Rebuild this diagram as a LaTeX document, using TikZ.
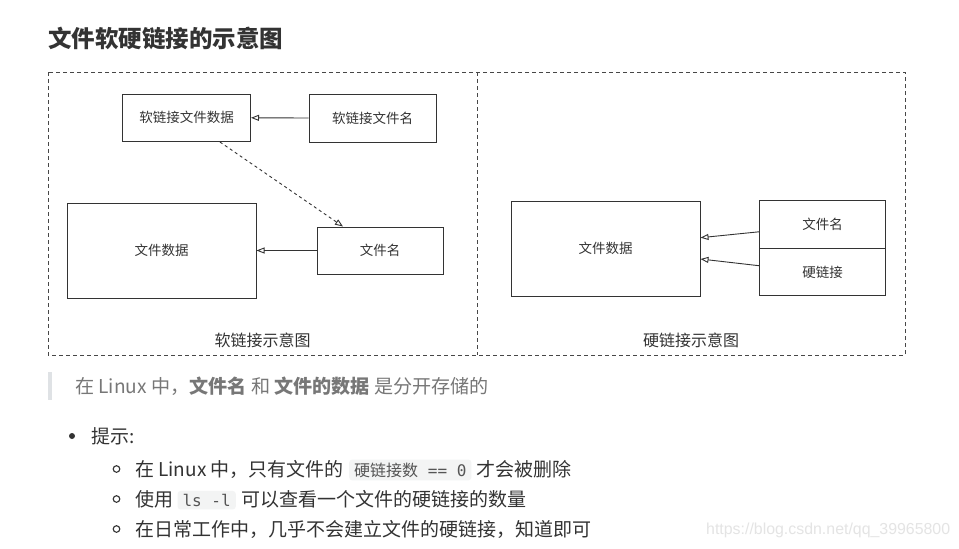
\documentclass[tikz,border=0pt]{standalone}
\usepackage{fontspec}
\setmainfont{Noto Sans CJK SC}
\setmonofont{DejaVu Sans Mono}
\newfontfamily\wmfont{Liberation Sans}
\usetikzlibrary{arrows.meta}
\definecolor{ink}{HTML}{333333}
\definecolor{quotegray}{HTML}{777777}
\definecolor{barcol}{HTML}{DFE2E5}
\definecolor{codebg}{HTML}{F3F4F4}
\definecolor{codeink}{HTML}{555555}
\definecolor{wmcol}{HTML}{E4E4E4}
\begin{document}
\begin{tikzpicture}[x=1pt,y=-1pt,
  box/.style={draw=ink, line width=1pt, inner sep=0pt, text=ink, font=\fontsize{13.5}{16}\selectfont},
  arr/.style={-{Triangle[open,length=8pt,width=6pt]}, draw=ink, line width=0.9pt},
  frame/.style={draw=ink!90, line width=0.9pt, dash pattern=on 4pt off 3pt},
  panelcap/.style={text=ink, font=\fontsize{16}{19}\selectfont, inner sep=0pt},
  txt/.style={text=ink, font=\fontsize{19}{22}\selectfont, inner sep=0pt},
  code/.style={fill=codebg, rounded corners=3pt, text=codeink, inner xsep=5pt, inner ysep=3pt, font=\fontsize{16}{19}\selectfont}
]
\useasboundingbox (0,0) rectangle (959,549);
\fill[white] (0,0) rectangle (959,549);

% title
\node[anchor=west, inner sep=0pt, text=ink, font=\fontsize{23.5}{28}\selectfont\bfseries] (title) at (48,38) {文件软硬链接的示意图};

% frame
\draw[frame] (48,72) rectangle (905,355);
\draw[frame] (477,72) -- (477,355);

% soft link panel
\node[box, minimum width=128pt, minimum height=47.5pt] (sdata) at (186.5,117.8) {软链接文件数据};
\node[box, minimum width=127pt, minimum height=48pt] (sname) at (372.5,118) {软链接文件名};
\node[box, minimum width=189pt, minimum height=95pt] (fdata) at (161.5,250.5) {文件数据};
\node[box, minimum width=126pt, minimum height=47pt] (fname) at (380,250.5) {文件名};
\draw[arr] (sname.west) -- (sdata.east);
\draw[arr] (fname.west) -- (fdata.east);
\draw[arr, dashed] ([xshift=33.5pt]sdata.south) -- ([xshift=-37pt]fname.north);
\node[panelcap] (softcap) at (262.5,340) {软链接示意图};

% hard link panel
\node[box, minimum width=189pt, minimum height=95pt] (fdata2) at (605.5,248.5) {文件数据};
\node[box, minimum width=126.5pt, minimum height=47.7pt] (fname2) at (822.7,224.8) {文件名};
\node[box, minimum width=126.5pt, minimum height=47.3pt] (hlink) at (822.7,272.3) {硬链接};
\draw[arr] ([yshift=-7pt]fname2.west) -- ([yshift=10.8pt]fdata2.east);
\draw[arr] ([yshift=6.6pt]hlink.west) -- ([yshift=-10.5pt]fdata2.east);
\node[panelcap] (hardcap) at (691,340) {硬链接示意图};

% blockquote
\fill[barcol] (48,372) rectangle (52,400);
\node[anchor=west, inner sep=0pt, text=quotegray, font=\fontsize{19.1}{22}\selectfont] (quote) at (75,386.5)
  {在 Linux 中，\textbf{文件名} 和 \textbf{文件的数据} 是分开存储的};

% list
\fill[ink] (72,436) circle (3pt);
\node[txt, anchor=west] (tip) at (91,436) {提示:};

\draw[ink, line width=1.1pt] (116.5,469) circle (3.3pt);
\node[txt, anchor=west] (r1a) at (135,469) {在 Linux 中，只有文件的};
\node[code, anchor=base west] (r1b) at ([xshift=5pt]r1a.base east) {硬链接数\texttt{ == 0}};
\node[txt, anchor=base west] (r1c) at ([xshift=5pt]r1b.base east) {才会被删除};

\draw[ink, line width=1.1pt] (116.5,499) circle (3.3pt);
\node[txt, anchor=west] (r2a) at (135,499) {使用};
\node[code, anchor=base west] (r2b) at ([xshift=4pt]r2a.base east) {\texttt{ls -l}};
\node[txt, anchor=base west] (r2c) at ([xshift=5pt]r2b.base east) {可以查看一个文件的硬链接的数量};

\draw[ink, line width=1.1pt] (116.5,529) circle (3.3pt);
\node[txt, anchor=west] (r3a) at (135,529) {在日常工作中，几乎不会建立文件的硬链接，知道即可};

% watermark
\node[anchor=west, inner sep=0pt, text=wmcol, font=\wmfont\fontsize{15.9}{18}\selectfont] (wm) at (706,530) {https://blog.csdn.net/qq\_39965800};
\end{tikzpicture}
\end{document}
